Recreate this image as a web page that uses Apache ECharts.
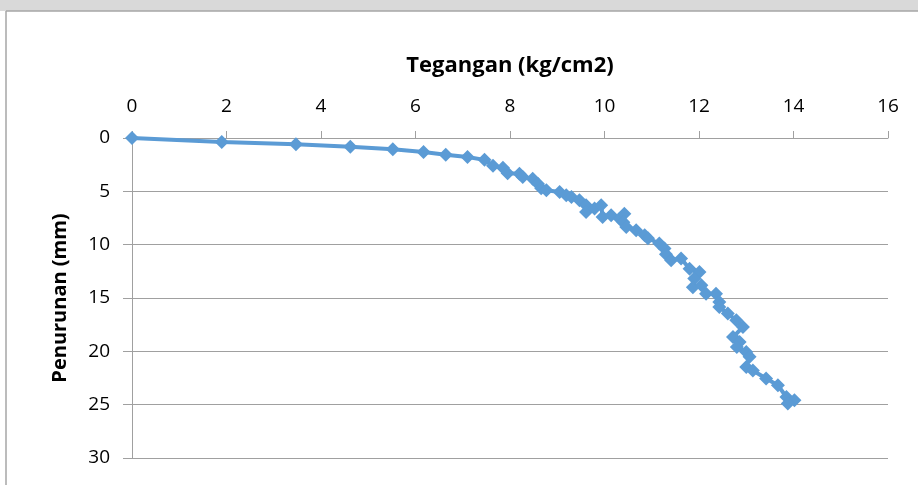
<!DOCTYPE html>
<html>
<head>
<meta charset="utf-8">
<script src="https://cdn.jsdelivr.net/npm/echarts@6/dist/echarts.min.js"></script>
<style>
html,body{margin:0;padding:0;background:#fff;}
#chart{width:918px;height:485px;}
</style>
</head>
<body>
<div id="chart"></div>
<script>
var tegangan = [0, 1.9, 3.47, 4.62, 5.52, 6.17, 6.64, 7.1, 7.46, 7.64, 7.85, 7.95, 8.2, 8.27, 8.48, 8.59, 8.66, 8.77, 9.05, 9.19, 9.3, 9.47, 9.61, 9.61, 9.79, 9.93, 9.96, 10.14, 10.32, 10.42, 10.4, 10.46, 10.67, 10.85, 10.92, 11.16, 11.27, 11.3, 11.41, 11.62, 11.8, 12.01, 11.9, 11.87, 12.05, 12.15, 12.36, 12.43, 12.43, 12.61, 12.79, 12.93, 12.72, 12.86, 12.8, 13.0, 13.07, 13.0, 13.14, 13.42, 13.67, 13.85, 14.02, 13.88];
var penurunan = [0, 0.37, 0.59, 0.81, 1.06, 1.31, 1.56, 1.78, 2.05, 2.6, 2.8, 3.3, 3.34, 3.66, 3.81, 4.28, 4.7, 4.9, 5.06, 5.37, 5.53, 5.84, 6.31, 6.94, 6.62, 6.31, 7.41, 7.25, 7.56, 7.09, 7.9, 8.34, 8.65, 9.12, 9.4, 9.9, 10.37, 10.9, 11.47, 11.3, 12.25, 12.56, 13.18, 14.0, 13.81, 14.59, 14.59, 15.37, 15.84, 16.46, 17.09, 17.72, 18.66, 19.12, 19.6, 20.06, 20.5, 21.46, 21.8, 22.55, 23.18, 24.28, 24.58, 24.9];
var xTicks = [0, 2, 4, 6, 8, 10, 12, 14, 16];
var yTicks = [0, 5, 10, 15, 20, 25, 30];
var xName = 'Tegangan (kg/cm2)';
var yName = 'Penurunan (mm)';

var pts = tegangan.map(function (v, i) { return [v, penurunan[i]]; });
var font = "'Open Sans', sans-serif";
var chart = echarts.init(document.getElementById('chart'), null, {renderer: 'canvas'});
chart.setOption({
  animation: false,
  backgroundColor: '#ffffff',
  graphic: [
    {type: 'rect', shape: {x: 0, y: 0, width: 918, height: 11}, style: {fill: '#d9d9d9'}, silent: true},
    {type: 'line', shape: {x1: 6, y1: 11, x2: 918, y2: 11}, style: {stroke: '#a6a6a6', lineWidth: 1.5}, silent: true},
    {type: 'line', shape: {x1: 6, y1: 11, x2: 6, y2: 485}, style: {stroke: '#a6a6a6', lineWidth: 1.5}, silent: true}
  ],
  grid: {left: 132, right: 30, top: 138, bottom: 27, containLabel: false},
  xAxis: {
    type: 'value', position: 'top', min: xTicks[0], max: xTicks[xTicks.length - 1], interval: 2,
    name: xName, nameLocation: 'middle', nameGap: 61,
    nameTextStyle: {fontFamily: font, fontWeight: 'bold', fontSize: 22, color: '#000'},
    axisLine: {show: true, lineStyle: {color: '#a0a0a0', width: 1}},
    axisTick: {show: true, length: 7, lineStyle: {color: '#a0a0a0'}},
    axisLabel: {fontFamily: font, fontSize: 19, color: '#000', margin: 22},
    splitLine: {show: false}
  },
  yAxis: {
    type: 'value', inverse: true, min: yTicks[0], max: yTicks[yTicks.length - 1], interval: 5,
    name: yName, nameLocation: 'middle', nameGap: 62, nameRotate: 90,
    nameTextStyle: {fontFamily: font, fontWeight: 'bold', fontSize: 20, color: '#000'},
    axisLine: {show: true, lineStyle: {color: '#a0a0a0', width: 1}},
    axisTick: {show: true, length: 9, lineStyle: {color: '#a0a0a0'}},
    axisLabel: {fontFamily: font, fontSize: 19, color: '#000', margin: 22},
    splitLine: {show: true, lineStyle: {color: '#a0a0a0', width: 1}}
  },
  series: [{
    type: 'line', data: pts, symbol: 'diamond', symbolSize: 14,
    lineStyle: {color: '#5b9bd5', width: 4},
    itemStyle: {color: '#5b9bd5'}
  }]
});
</script>
</body>
</html>
